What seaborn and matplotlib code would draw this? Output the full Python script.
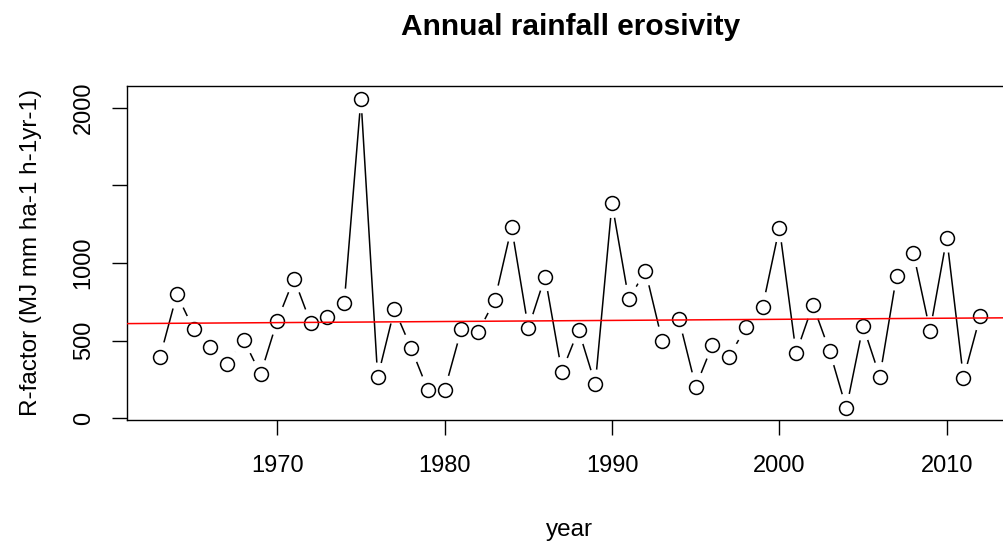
import numpy as np
import pandas as pd
import matplotlib
matplotlib.use('Agg')
import matplotlib.pyplot as plt
import seaborn as sns

# 年份和年降雨侵蚀力
years = list(range(1963, 2013))
r_factor = [397, 798, 573, 461, 350, 504, 283, 629, 899, 612,
            654, 740, 2058, 264, 702, 451, 182, 182, 573, 554,
            762, 1230, 580, 912, 300, 569, 219, 1384, 766, 948,
            498, 637, 204, 472, 397, 586, 719, 1227, 419, 730,
            433, 64, 594, 268, 916, 1066, 564, 1161, 258, 659]
x_ticks = [1970, 1980, 1990, 2000, 2010]
y_ticks = [0, 500, 1000, 1500, 2000]
y_tick_labels = ['0', '500', '1000', '', '2000']

df = pd.DataFrame({'year': years, 'R': r_factor})

sns.set_theme(style='ticks')
plt.rcParams['font.family'] = ['Liberation Sans', 'DejaVu Sans']

fig = plt.figure(figsize=(10.04, 5.46), dpi=100)
# 右边框在图片外面 (原图被裁切)
ax = fig.add_axes([0.1268, 0.2308, 0.8822, 0.6123])
ax.set_xlim(1961.04, 2013.96)
ax.set_ylim(-11, 2141)

# 折线 + 点 (R 的 type="b" 效果: 点周围留空)
sns.lineplot(data=df, x='year', y='R', color='black', linewidth=1.1, ax=ax, zorder=1)
sns.scatterplot(data=df, x='year', y='R', s=450, color='white', edgecolor='none',
                linewidth=0, ax=ax, zorder=1.5)
sns.scatterplot(data=df, x='year', y='R', s=100, facecolor='white', edgecolor='black',
                linewidth=1.1, ax=ax, zorder=3)

# 趋势线
sns.regplot(data=df, x='year', y='R', scatter=False, ci=None, truncate=False,
            color='red', line_kws={'linewidth': 1.1, 'zorder': 4}, ax=ax)

ax.set_xlim(1961.04, 2013.96)
ax.set_ylim(-11, 2141)

ax.set_xticks(x_ticks)
ax.set_xticklabels([str(t) for t in x_ticks])
ax.set_yticks(y_ticks)
ax.set_yticklabels(y_tick_labels, rotation=90, va='center')
ax.tick_params(axis='both', length=10.5, width=1.0, color='black',
               labelsize=17, labelcolor='black', direction='out')
ax.tick_params(axis='x', pad=15)
ax.tick_params(axis='y', pad=13)

for side in ['top', 'bottom', 'left', 'right']:
    ax.spines[side].set_visible(True)
    ax.spines[side].set_color('black')
    ax.spines[side].set_linewidth(1.0)

ax.set_xlabel('year', fontsize=17.5, color='black', va='center')
ax.xaxis.set_label_coords(0.4987, -0.329)
ax.set_ylabel('R-factor (MJ mm ha-1 h-1yr-1)', fontsize=17.5, color='black', va='center')
ax.yaxis.set_label_coords(-0.109, 0.5)
ax.set_title('Annual rainfall erosivity', fontsize=21.5, fontweight='bold',
             color='black', y=1.1517, pad=0)

fig.savefig('out.png', dpi=100, facecolor='white')
